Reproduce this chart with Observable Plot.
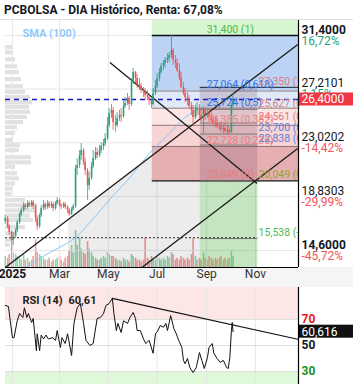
<!DOCTYPE html>
<html>
<head>
<meta charset="utf-8">
<script src="https://cdn.jsdelivr.net/npm/d3@7"></script>
<script src="https://cdn.jsdelivr.net/npm/@observablehq/plot@0.6"></script>
<style>
html,body{margin:0;padding:0;background:#fff;}
#wrap{position:relative;width:353px;height:390px;overflow:hidden;font-family:Roboto,sans-serif;}
.abs{position:absolute;left:0;}
#title{top:3px;left:4px;font-size:12px;font-weight:700;color:#131722;white-space:nowrap;}
</style>
</head>
<body>
<div id="wrap">
  <div class="abs" id="title">PCBOLSA - DIA Histórico, Renta: 67,08%</div>
  <div class="abs" style="top:19px;width:353px;height:1px;background:#e0e0e0"></div>
  <div class="abs" style="top:267px;width:353px;height:20px;background:#f5f5f5"></div>
</div>
<script>
// ---------- data ----------
const dates = [
"2024-12-23","2024-12-26","2024-12-28","2024-12-31","2025-01-02","2025-01-05","2025-01-07","2025-01-10","2025-01-12","2025-01-15",
"2025-01-17","2025-01-20","2025-01-22","2025-01-25","2025-01-27","2025-01-30","2025-02-01","2025-02-04","2025-02-06","2025-02-09",
"2025-02-11","2025-02-14","2025-02-16","2025-02-19","2025-02-21","2025-02-24","2025-02-26","2025-03-01","2025-03-03","2025-03-06",
"2025-03-08","2025-03-11","2025-03-13","2025-03-16","2025-03-18","2025-03-21","2025-03-23","2025-03-26","2025-03-28","2025-03-31",
"2025-04-02","2025-04-05","2025-04-07","2025-04-10","2025-04-12","2025-04-15","2025-04-17","2025-04-20","2025-04-22","2025-04-25",
"2025-04-27","2025-04-30","2025-05-02","2025-05-05","2025-05-07","2025-05-10","2025-05-12","2025-05-15","2025-05-17","2025-05-20",
"2025-05-22","2025-05-25","2025-05-27","2025-05-30","2025-06-01","2025-06-04","2025-06-06","2025-06-09","2025-06-11","2025-06-14",
"2025-06-16","2025-06-19","2025-06-21","2025-06-24","2025-06-26","2025-06-29","2025-07-01","2025-07-04","2025-07-06","2025-07-09",
"2025-07-11","2025-07-14","2025-07-16","2025-07-19","2025-07-21","2025-07-24","2025-07-26","2025-07-29","2025-07-31","2025-08-03",
"2025-08-05","2025-08-08","2025-08-10","2025-08-13","2025-08-15","2025-08-18","2025-08-20","2025-08-23","2025-08-25","2025-08-28",
"2025-08-30","2025-09-02","2025-09-04","2025-09-07","2025-09-09","2025-09-12","2025-09-14","2025-09-17","2025-09-19","2025-09-22",
"2025-09-24","2025-09-27","2025-09-29","2025-10-02","2025-10-04"];
const opens = [
16.87,17.10,16.48,16.01,15.39,15.70,16.17,16.79,17.42,17.73,
18.12,17.96,18.27,18.12,18.35,18.04,17.10,16.48,17.34,17.88,
18.20,17.96,18.27,18.04,18.20,17.88,18.27,18.51,18.12,18.04,
18.20,17.96,17.73,17.42,17.81,18.04,21.01,21.24,22.02,22.42,
21.48,20.85,19.68,20.23,21.17,21.79,22.26,22.02,22.42,22.73,
22.96,23.35,24.37,25.31,25.54,24.60,24.37,24.92,25.15,25.07,
25.85,26.09,26.48,26.01,27.73,28.51,28.04,27.57,27.42,27.10,
26.95,26.71,26.56,26.32,26.01,26.87,27.42,28.04,28.51,28.98,
29.21,29.45,29.60,29.84,30.23,29.45,29.21,28.67,28.04,27.34,
26.87,26.56,26.32,25.85,25.54,24.99,25.54,25.70,25.15,24.92,
25.54,25.23,25.31,24.99,24.76,24.60,24.53,24.29,24.21,24.06,
24.13,23.90,23.98,23.82,25.93];
const highs = [
17.34,17.26,16.63,16.17,16.01,16.32,16.95,17.57,17.96,18.35,
18.27,18.51,18.43,18.51,18.51,18.20,17.34,17.49,18.12,18.51,
18.35,18.51,18.43,18.43,18.35,18.43,18.74,18.66,18.27,18.35,
18.35,18.12,17.88,17.96,18.20,21.24,21.79,22.42,22.96,22.57,
21.79,21.01,20.70,21.48,22.42,22.65,22.57,22.81,23.04,23.27,
23.74,24.99,25.70,26.01,25.78,25.15,25.38,25.54,25.70,26.32,
26.56,26.87,26.63,28.04,28.82,28.59,28.35,28.04,27.65,27.34,
27.26,27.10,26.87,26.56,27.26,27.88,28.43,28.82,29.21,29.45,
29.68,29.99,30.07,31.40,30.38,29.84,29.60,29.21,28.51,27.73,
27.26,26.95,26.71,26.17,25.93,25.93,26.17,26.01,25.70,25.78,
25.70,25.54,25.54,25.38,25.15,24.99,24.92,24.60,24.60,24.37,
24.53,24.37,24.29,26.09,26.87];
const lows = [
16.63,16.32,15.77,14.60,14.99,15.54,16.01,16.63,17.26,17.57,
17.73,17.81,17.96,17.96,17.81,16.79,16.17,16.32,17.18,17.73,
17.73,17.81,17.88,17.88,17.65,17.73,18.12,17.96,17.81,17.88,
17.81,17.49,17.26,17.34,17.65,17.88,20.46,21.01,21.63,21.24,
20.46,18.51,19.29,20.07,21.01,21.63,21.79,21.87,22.18,22.42,
22.73,23.20,24.21,24.92,23.98,23.82,24.21,24.68,24.60,24.92,
25.70,25.93,25.54,25.85,27.57,27.65,27.26,27.10,26.87,26.56,
26.32,26.32,25.93,25.70,25.85,26.71,27.26,27.80,28.35,28.67,
28.90,29.21,29.29,29.60,29.06,28.82,28.51,27.88,27.26,26.71,
26.17,25.93,25.70,25.15,24.37,24.84,25.15,24.92,24.60,23.74,
24.76,24.92,24.76,24.60,24.37,24.21,24.13,23.98,23.82,23.74,
23.74,23.66,23.59,23.74,25.78];
const closes = [
17.10,16.48,16.01,15.39,15.70,16.17,16.79,17.42,17.73,18.12,
17.96,18.27,18.12,18.35,18.04,17.10,16.48,17.34,17.88,18.20,
17.96,18.27,18.04,18.20,17.88,18.27,18.51,18.12,18.04,18.20,
17.96,17.73,17.42,17.81,18.04,21.01,21.24,22.02,22.42,21.48,
20.85,19.68,20.23,21.17,21.79,22.26,22.02,22.42,22.73,22.96,
23.35,24.37,25.31,25.54,24.60,24.37,24.92,25.15,25.07,25.85,
26.09,26.48,26.01,27.73,28.51,28.04,27.57,27.42,27.10,26.95,
26.71,26.56,26.32,26.01,26.87,27.42,28.04,28.51,28.98,29.21,
29.45,29.60,29.84,30.23,29.45,29.21,28.67,28.04,27.34,26.87,
26.56,26.32,25.85,25.54,24.99,25.54,25.70,25.15,24.92,25.54,
25.23,25.31,24.99,24.76,24.60,24.53,24.29,24.21,24.06,24.13,
23.90,23.98,23.82,25.93,26.40];
const volumes = [
300,250,350,500,400,350,300,250,200,350,
200,250,150,200,300,750,400,350,300,250,
200,200,250,150,200,200,250,300,200,150,
250,300,450,600,400,1000,600,800,500,400,
350,700,500,400,300,250,200,200,250,300,
250,400,350,300,300,250,200,200,150,250,
200,200,150,350,300,250,200,200,150,200,
800,250,200,300,250,200,300,250,200,250,
200,300,250,400,350,200,250,200,300,250,
200,250,200,350,780,300,200,250,200,400,
250,200,300,250,200,250,200,250,300,200,
250,200,250,450,300];

const smaDates = ["2025-01-17","2025-01-27","2025-02-17","2025-03-10","2025-03-23","2025-04-08","2025-04-21","2025-05-07","2025-05-25","2025-06-04","2025-06-22","2025-07-14","2025-08-03","2025-08-24","2025-09-05","2025-09-18","2025-10-04"];
const smaValues = [13.28,13.67,14.45,15.15,15.70,16.79,17.73,18.90,20.07,20.85,22.26,23.59,24.92,25.78,26.17,26.40,26.63];

const rsiDates = ["2024-12-23","2024-12-27","2025-01-01","2025-01-03","2025-01-07","2025-01-10","2025-01-14","2025-01-16","2025-01-19","2025-01-21",
"2025-01-25","2025-01-27","2025-01-31","2025-02-01","2025-02-04","2025-02-06","2025-02-09","2025-02-12","2025-02-15","2025-02-20",
"2025-02-24","2025-02-26","2025-03-02","2025-03-04","2025-03-08","2025-03-11","2025-03-16","2025-03-19","2025-03-23","2025-03-27",
"2025-03-31","2025-04-03","2025-04-08","2025-04-12","2025-04-17","2025-04-21","2025-04-25","2025-04-28","2025-05-02","2025-05-06",
"2025-05-08","2025-05-11","2025-05-13","2025-05-17","2025-05-20","2025-05-25","2025-05-28","2025-06-01","2025-06-04","2025-06-06",
"2025-06-10","2025-06-14","2025-06-17","2025-06-21","2025-06-26","2025-06-29","2025-07-02","2025-07-05","2025-07-09","2025-07-12",
"2025-07-14","2025-07-18","2025-07-22","2025-07-25","2025-07-28","2025-08-01","2025-08-03","2025-08-05","2025-08-08","2025-08-11",
"2025-08-15","2025-08-19","2025-08-23","2025-08-26","2025-08-29","2025-09-02","2025-09-04","2025-09-08","2025-09-10","2025-09-14",
"2025-09-18","2025-09-22","2025-09-26","2025-09-28","2025-09-30","2025-10-02","2025-10-03","2025-10-04"];
const rsiValues = [80.8,80,56,56,69,74.6,71.5,79,71.5,74.6,
67.7,70.8,46,59,46,58,55,58,55,56,
54,61.5,48.5,56,51.5,59,42.3,67,79,82.3,
67,54,50,51.5,70.8,71.5,74.6,80.8,82.3,86.2,
74.6,61.5,67,60,69,67,71.5,75.4,70.8,61.5,
61.5,55,51.5,54,44,59,61.5,65.4,64,67,
61.5,73,63,59,54,48.5,38.5,36,40,33,
29.2,33,44.6,38.5,32.3,40.8,48.5,51.5,44,40,
37,38.5,33,32.3,40.8,61.5,67.7,60.616];
const rsiTrendDates = ["2025-05-06","2025-12-24"];
const rsiTrendValues = [86.2, 54.8];
const rsiLevels = [70, 50, 30];
const rsiLevelColors = ["#e31b1b", "#131722", "#17941f"];
const rsiTitle = "RSI (14)";
const rsiTitleValue = "60,61";
const lastRsi = 60.616;
const lastRsiLabel = "60,616";

const profilePrices = [30.45,30.05,29.5,28.95,28.5,27.95,27.4,26.95,26.55,26.15,25.8,25.4,25.0,24.6,24.2,23.75,23.2,22.8,22.4,21.85,21.45,21.1,20.6,20.2,19.8,19.4,19.0,18.5,18.1,17.7,17.3,16.95,16.4,15.9,15.4,15.0];
const profileVolumes = [7,8,10,12,14,16,18,20,25,27,24,25,22,18,12,10,8,15,14,26,26,10,12,14,10,8,6,20,32,30,25,28,20,10,6,5];

const priceTicks = [31.4, 27.2101, 23.0202, 18.8303, 14.6];
const priceTickLabels = ["31,4000","27,2101","23,0202","18,8303","14,6000"];
const pctLabels = ["16,72%","1,15%","-14,42%","-29,99%","-45,72%"];
const lastPrice = 26.4;
const lastPriceLabel = "26,4000";

const monthTicks = ["2025-01-01","2025-03-01","2025-05-01","2025-07-01","2025-09-01","2025-11-01"];
const monthLabels = ["2025","Mar","May","Jul","Sep","Nov"];

const fib1Prices = [31.4, 27.064, 25.724, 24.385, 22.728, 20.049];
const fib1Ratios = ["1","0,618","0,5","0,382","0,236","0"];
const fib1TextColors = ["#4cbb4c","#2f6fe4","#2f6fe4","#f08282","#f07c7c","#ec7c7c"];
const fib1BandColors = ["#d6f5d0","#bcd3f6","#e0e9f7","#fbe5e5","#f7d3d3","#e6b0b2"];
const fib2Prices = [27.35, 25.627, 24.561, 23.7, 22.838, 20.049, 15.538];
const fib2Ratios = ["1","0,764","0,618","0,5","0,382","0","-0,618"];
const fib2TextColors = ["#e57a7a","#e57a7a","#e57a7a","#5a7fdc","#5a7fdc","#93a33a","#4cbb4c"];

const trendX1 = ["2024-12-23","2025-06-12","2025-05-03"];
const trendY1 = [13.27, 13.27, 29.29];
const trendX2 = ["2025-12-24","2025-12-24","2025-11-03"];
const trendY2 = [30.70, 22.57, 19.84];
const grayDates = ["2025-03-12","2025-11-04"];
const grayTop = [17.02, 28.30];
const dottedLevel = 15.6;

// ---------- setup ----------
const D = s => new Date(s + "T00:00:00Z");
const X0 = new Date(Date.UTC(2024,11,23,8)), X1 = new Date(Date.UTC(2025,11,24,22));
const XR = new Date(Date.UTC(2026,2,10));
const Y0 = 13.275, Y1 = 32.571;
const F1S = D("2025-06-25"), F2S = D("2025-08-24"), F2E = D("2025-11-04");
const F1L = D("2025-09-01"), F2L = D("2025-11-05");
const UP = "#26a17b", DOWN = "#ef5350";
const FONT = "Roboto, sans-serif";
const fmt3 = v => v.toFixed(3).replace(".", ",");

const candles = dates.map((d,i)=>({date:D(d), open:opens[i], high:highs[i], low:lows[i], close:closes[i], volume:volumes[i]}));
const sma = smaDates.map((d,i)=>({date:D(d), value:smaValues[i]}));
const rsi = rsiDates.map((d,i)=>({date:D(d), value:rsiValues[i]}));
const profile = profilePrices.map((p,i)=>({price:p, vol:profileVolumes[i]}));
const months = monthTicks.map(D);
const trends = trendX1.map((x,i)=>({x1:D(x), y1:trendY1[i], x2:D(trendX2[i]), y2:trendY2[i]}));
const gray = grayDates.map((d,i)=>({date:D(d), top:grayTop[i]}));
const fib1Bands = fib1BandColors.map((c,i)=>({hi: i===0 ? Y1 : fib1Prices[i-1], lo: fib1Prices[i], fill:c}));
const candleColor = d => d.close >= d.open ? UP : DOWN;

const common = {width:353, marginLeft:5, marginRight:55, style:{background:"transparent", fontFamily:FONT, overflow:"visible"}};

// volume profile (left)
const profilePlot = Plot.plot({...common, height:247, marginTop:0, marginBottom:0,
  x:{domain:[0,293], axis:null}, y:{domain:[Y0,Y1], axis:null},
  marks:[Plot.rect(profile, {x1:0, x2:"vol", y1:d=>d.price-0.16, y2:d=>d.price+0.16, fill:"#d4d4d4", fillOpacity:0.7})]
});

// volume bars
const volumePlot = Plot.plot({...common, height:247, marginTop:0, marginBottom:0,
  x:{type:"utc", domain:[X0,X1], axis:null}, y:{domain:[0,6700], axis:null},
  color:{type:"identity"},
  marks:[Plot.ruleX(candles, {x:"date", y1:0, y2:"volume", stroke:d=> d.close>=d.open ? "#8fd6aa" : "#f39a9a", strokeWidth:1.6})]
});

// main chart
const mainPlot = Plot.plot({...common, height:268, marginTop:0, marginBottom:21,
  x:{type:"utc", domain:[X0,X1], axis:null}, y:{domain:[Y0,Y1], axis:null},
  color:{type:"identity"},
  marks:[
    Plot.ruleX(months, {x:d=>d, stroke:"#e6e6e6"}),
    Plot.ruleY(priceTicks, {y:d=>d, stroke:"#e6e6e6"}),
    Plot.areaY(gray, {x:"date", y1:()=>Y0, y2:"top", fill:"#000", fillOpacity:0.075}),
    Plot.rect(fib1Bands, {x1:()=>F1S, x2:()=>X1, y1:"lo", y2:"hi", fill:"fill"}),
    Plot.rect([0], {x1:()=>F2S, x2:()=>F2E, y1:()=>20.049, y2:()=>27.35, fill:"#6b3a5e", fillOpacity:0.2}),
    Plot.rect([0], {x1:()=>F2S, x2:()=>F2E, y1:()=>Y0, y2:()=>20.049, fill:"#62d256", fillOpacity:0.28}),
    Plot.ruleY(fib1Prices, {y:d=>d, x1:()=>F1S, x2:()=>X1, stroke:(d,i)=> (i===0||i===5) ? "#111" : "#806e6e", strokeWidth:(d,i)=>(i===0||i===5)?1.3:0.9}),
    Plot.ruleY(fib2Prices, {y:d=>d, x1:()=>F2S, x2:(d,i)=> i===0 ? X1 : F2E, stroke:(d,i)=> i===0 ? "#111" : "#7a7070", strokeWidth:0.9}),
    Plot.ruleY([dottedLevel], {y:d=>d, x1:()=>X0, x2:()=>F2E, stroke:"#222", strokeDasharray:"2,2", strokeWidth:1}),
    Plot.ruleY([lastPrice], {y:d=>d, stroke:"#1616c8", strokeDasharray:"5,4", strokeWidth:1.3}),
    Plot.line(sma, {x:"date", y:"value", stroke:"#8cc6f5", strokeWidth:1}),
    Plot.link(trends, {x1:"x1", y1:"y1", x2:"x2", y2:"y2", stroke:"#1a1a1a", strokeWidth:1.3}),
    Plot.ruleX(candles, {x:"date", y1:"low", y2:"high", stroke:candleColor, strokeWidth:0.8}),
    Plot.ruleX(candles, {x:"date", y1:"open", y2:"close", stroke:candleColor, strokeWidth:1.6}),
    Plot.text(fib1Prices, {x:()=>F1L, y:d=>d, dy:-6, text:(d,i)=>`${fmt3(d)} (${fib1Ratios[i]})`, fill:(d,i)=>fib1TextColors[i], textAnchor:"start", fontSize:10.5, fontFamily:FONT, clip:true}),
    Plot.text(fib2Prices, {x:()=>F2L, y:d=>d, dy:-6, text:(d,i)=>`${fmt3(d)} (${fib2Ratios[i]})`, fill:(d,i)=>fib2TextColors[i], textAnchor:"start", fontSize:10.5, fontFamily:FONT, clip:true}),
    Plot.text(["SMA (100)"], {frameAnchor:"top-left", dx:17, dy:9, text:d=>d, fill:"#90caf9", fontWeight:"bold", fontSize:11, fontFamily:FONT, textAnchor:"start"}),
    // right axis
    Plot.text(priceTicks, {filter:(d,i)=>i===0||i===4, x:()=>X1, y:d=>d, dx:3, dy:-5.5, text:(d,i)=>priceTickLabels[i], textAnchor:"start", fontSize:12, fontWeight:"bold", fill:"#131722", fontFamily:FONT}),
    Plot.text(priceTicks, {filter:(d,i)=>i>0&&i<4, x:()=>X1, y:d=>d, dx:3, dy:-5.5, text:(d,i)=>priceTickLabels[i], textAnchor:"start", fontSize:12, fill:"#131722", fontFamily:FONT}),
    Plot.text(priceTicks, {x:()=>X1, y:d=>d, dx:3, dy:5.5, text:(d,i)=>pctLabels[i], textAnchor:"start", fontSize:12, fill:(d,i)=> pctLabels[i].startsWith("-") ? "#f25555" : "#1fa37a", fontFamily:FONT}),
    Plot.rect([lastPrice], {x1:()=>X1, x2:()=>XR, y1:d=>d-0.51, y2:d=>d+0.51, fill:"#f23645"}),
    Plot.text([lastPrice], {x:()=>X1, y:d=>d, dx:3, text:()=>lastPriceLabel, textAnchor:"start", fontSize:12, fill:"#fff", fontFamily:FONT}),
    // x axis labels
    Plot.text(months, {filter:(d,i)=>i===0, x:d=>d, frameAnchor:"bottom", dy:10, text:(d,i)=>monthLabels[i], fontSize:12, fontWeight:"bold", fill:"#131722", fontFamily:FONT}),
    Plot.text(months, {filter:(d,i)=>i>0, x:d=>d, frameAnchor:"bottom", dy:10, text:(d,i)=>monthLabels[i], fontSize:12, fill:"#333", fontFamily:FONT}),
    // frame
    Plot.ruleX([X1], {x:d=>d, stroke:"#000", strokeWidth:1.2}),
    Plot.ruleY([Y0], {y:d=>d, stroke:"#000", strokeWidth:1.2})
  ]
});

// RSI panel
const rsiPlot = Plot.plot({...common, height:103, marginTop:0, marginBottom:6,
  x:{type:"utc", domain:[X0,X1], axis:null}, y:{domain:[20,94.6], axis:null},
  color:{type:"identity"},
  marks:[
    Plot.rect([0], {x1:()=>X0, x2:()=>X1, y1:()=>70, y2:()=>94.6, fill:"#fde6e6"}),
    Plot.rect([0], {x1:()=>X0, x2:()=>X1, y1:()=>20, y2:()=>30, fill:"#dff8da"}),
    Plot.ruleX(months, {x:d=>d, stroke:"#e6e6e6"}),
    Plot.ruleY(rsiLevels, {y:d=>d, stroke:"#e0e0e0"}),
    Plot.line(rsi, {x:"date", y:"value", stroke:"#111", strokeWidth:1}),
    Plot.line(rsiTrendDates.map((d,i)=>({date:D(d), value:rsiTrendValues[i]})), {x:"date", y:"value", stroke:"#111", strokeWidth:1.2}),
    Plot.text([rsiTitle], {frameAnchor:"top-left", dx:17, dy:9, text:d=>d, fill:"#222", fontWeight:"bold", fontSize:11, fontFamily:FONT, textAnchor:"start"}),
    Plot.text([rsiTitleValue], {frameAnchor:"top-left", dx:63, dy:9, text:d=>d, fill:"#222", fontWeight:"bold", fontSize:11, fontFamily:FONT, textAnchor:"start"}),
    Plot.text(rsiLevels, {x:()=>X1, y:d=>d, dx:3, text:d=>String(d), fill:(d,i)=>rsiLevelColors[i], fontSize:12, fontWeight:"bold", textAnchor:"start", fontFamily:FONT}),
    Plot.rect([lastRsi], {x1:()=>X1, x2:()=>XR, y1:d=>d-5, y2:d=>d+5, fill:"#111"}),
    Plot.text([lastRsi], {x:()=>X1, y:d=>d, dx:3, text:()=>lastRsiLabel, fill:"#fff", fontSize:12, textAnchor:"start", fontFamily:FONT}),
    Plot.ruleX([X1], {x:d=>d, stroke:"#000", strokeWidth:1.2})
  ]
});

const wrap = document.getElementById("wrap");
function place(el, top){ el.style.position="absolute"; el.style.left="0px"; el.style.top=top+"px"; wrap.appendChild(el); }
place(profilePlot, 20);
place(volumePlot, 20);
place(mainPlot, 20);
place(rsiPlot, 287);
</script>
</body>
</html>
